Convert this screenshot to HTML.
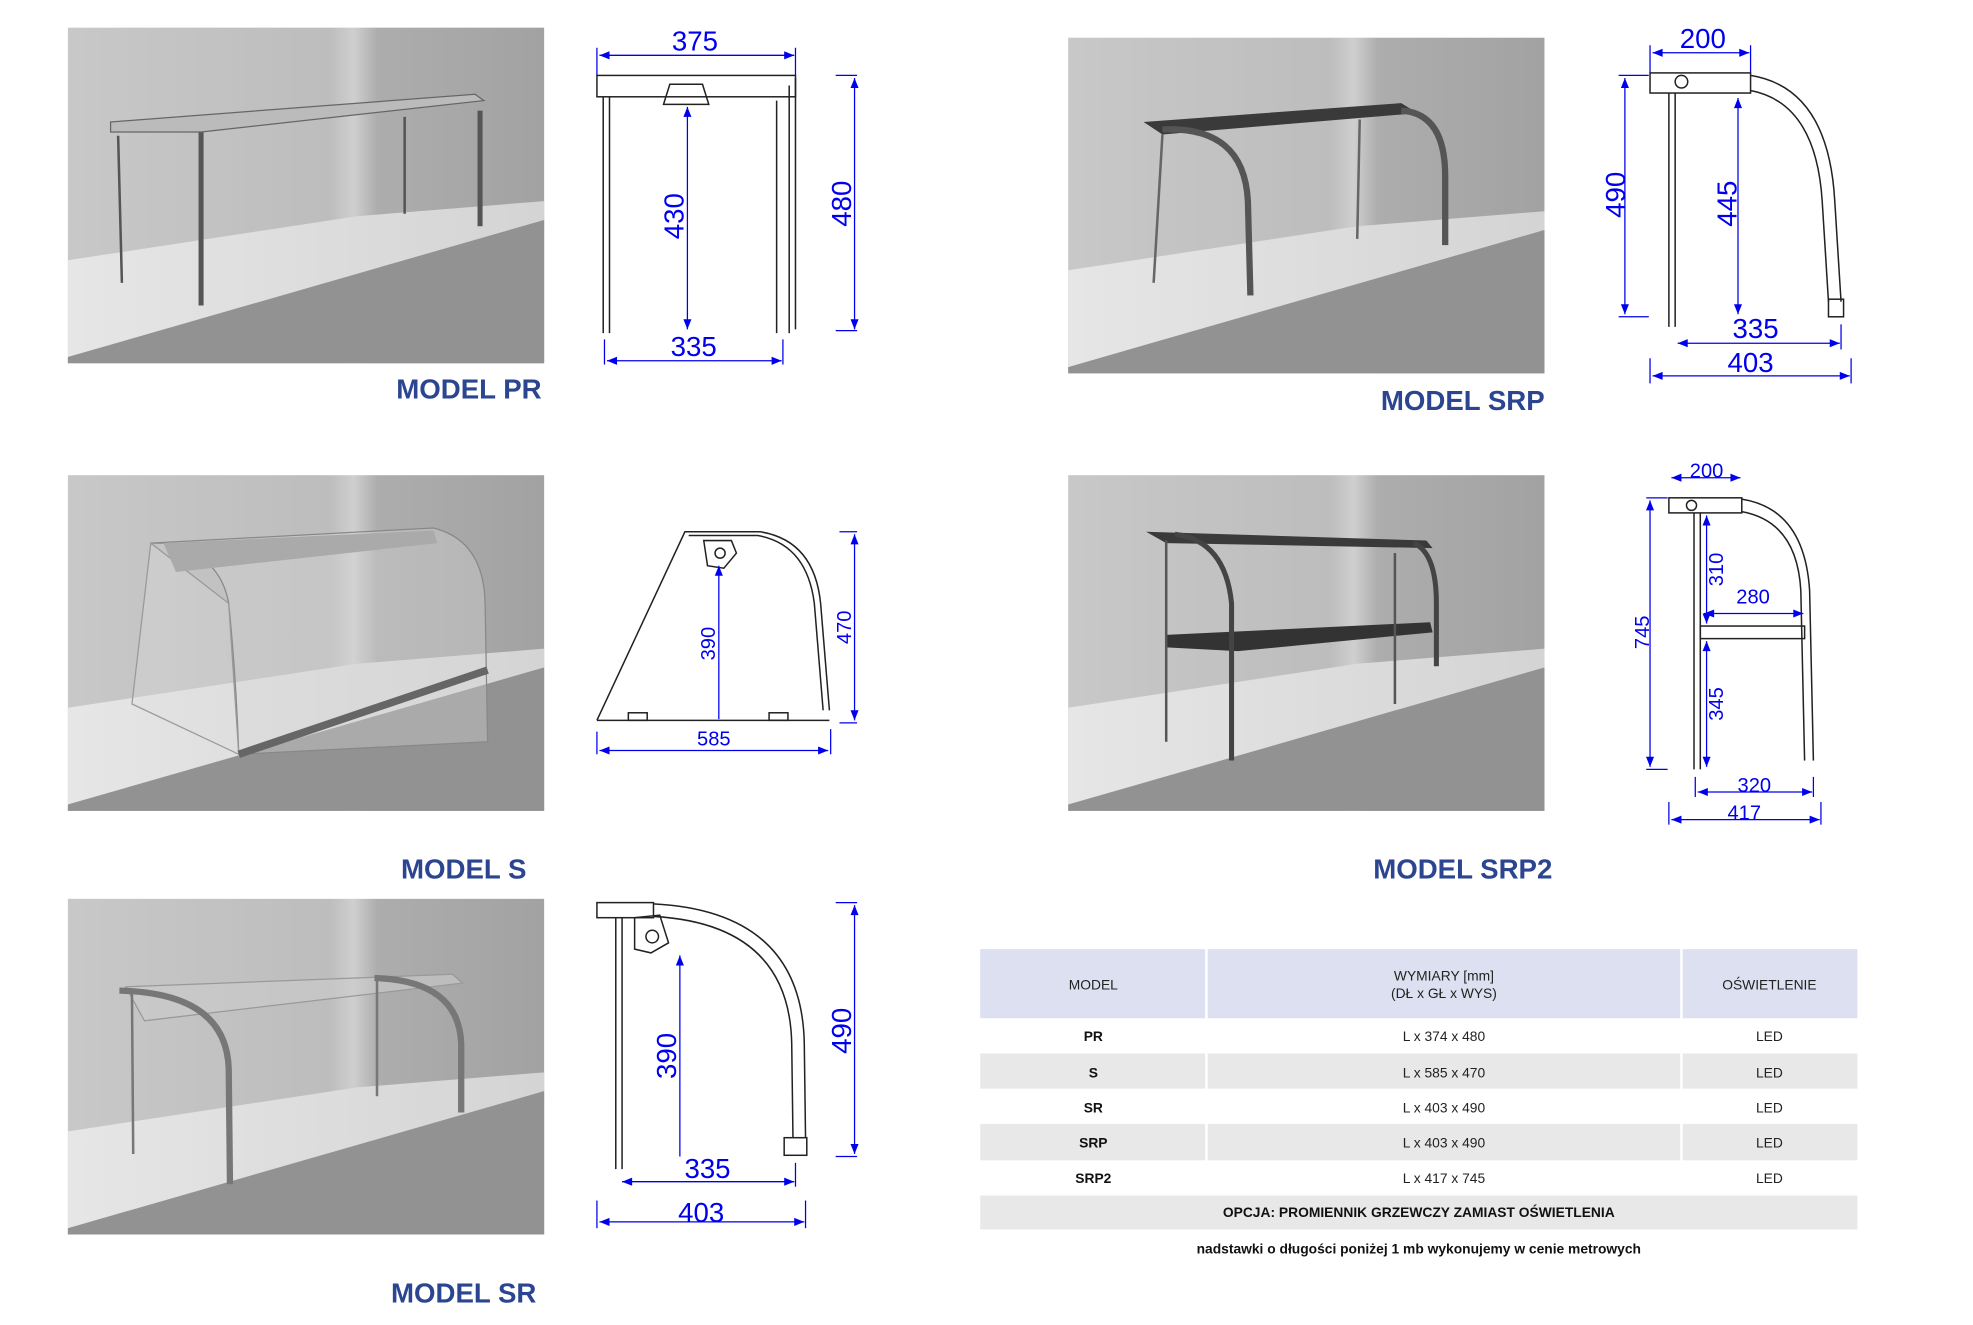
<!DOCTYPE html>
<html><head><meta charset="utf-8">
<style>
html,body{margin:0;padding:0;background:#fff;}
svg{display:block;}
text{font-family:"Liberation Sans",sans-serif;}
.m{font-weight:bold;font-size:22px;fill:#2b4590;}
.d{fill:#0000ee;font-size:22px;}
.ds{fill:#0000ee;font-size:16px;}
.dl{stroke:#0000ee;stroke-width:1;fill:none;}
.k{stroke:#222;stroke-width:1.2;fill:none;}
.t{font-size:11px;fill:#222;}
.tb{font-size:11px;fill:#111;font-weight:bold;}
</style></head><body>
<svg width="1973" height="1325" viewBox="0 0 1570 1054" preserveAspectRatio="none" xmlns="http://www.w3.org/2000/svg">
<defs>
<marker id="a" viewBox="0 0 10 10" refX="10" refY="5" markerWidth="10" markerHeight="8" orient="auto-start-reverse"><path d="M0,1 L10,5 L0,9 z" fill="#0000ee"/></marker>
<linearGradient id="wall" x1="0" x2="1" y1="0" y2="0"><stop offset="0" stop-color="#c8c8c8"/><stop offset="0.55" stop-color="#bdbdbd"/><stop offset="0.6" stop-color="#cfcfcf"/><stop offset="0.65" stop-color="#adadad"/><stop offset="1" stop-color="#a2a2a2"/></linearGradient>
<linearGradient id="top" x1="0" x2="1" y1="0" y2="0"><stop offset="0" stop-color="#e6e6e6"/><stop offset="1" stop-color="#d4d4d4"/></linearGradient>
<g id="bg">
<rect x="0" y="0" width="379" height="267" fill="url(#wall)"/>
<polygon points="0,185 230,150 379,138 379,153 0,262" fill="url(#top)"/>
<polygon points="0,262 379,153 379,267 0,267" fill="#929292"/>
</g>
</defs>

<use href="#bg" x="54" y="22"/>
<g stroke="#555" stroke-width="4" fill="none">
<line x1="160" y1="105" x2="160" y2="243"/><line x1="382" y1="88" x2="382" y2="180"/>
<line x1="94" y1="108" x2="97" y2="225" stroke-width="2"/><line x1="322" y1="93" x2="322" y2="170" stroke-width="2"/>
</g>
<polygon points="88,97 378,75 385,80 160,105 88,105" fill="#bbb" stroke="#666"/>
<text class="m" x="431" y="317" text-anchor="end">MODEL PR</text>

<line class="dl" x1="477" y1="44" x2="632" y2="44" marker-start="url(#a)" marker-end="url(#a)"/>
<line class="dl" x1="475" y1="38" x2="475" y2="60"/><line class="dl" x1="633" y1="38" x2="633" y2="60"/>
<text class="d" x="553" y="40" text-anchor="middle">375</text>
<rect class="k" x="475" y="60" width="158" height="17"/>
<polygon class="k" points="533,67 559,67 564,83 528,83"/>
<line class="k" x1="480" y1="77" x2="480" y2="265"/><line class="k" x1="485" y1="77" x2="485" y2="265"/>
<line class="k" x1="618" y1="80" x2="618" y2="265"/><line class="k" x1="628" y1="68" x2="628" y2="265"/><line class="k" x1="633" y1="62" x2="633" y2="262"/>
<line class="dl" x1="547" y1="85" x2="547" y2="262" marker-start="url(#a)" marker-end="url(#a)"/>
<text class="d" transform="translate(544,172) rotate(-90)" text-anchor="middle">430</text>
<line class="dl" x1="680" y1="62" x2="680" y2="262" marker-start="url(#a)" marker-end="url(#a)"/>
<line class="dl" x1="665" y1="60" x2="682" y2="60"/><line class="dl" x1="665" y1="263" x2="682" y2="263"/>
<text class="d" transform="translate(677,162) rotate(-90)" text-anchor="middle">480</text>
<line class="dl" x1="483" y1="287" x2="622" y2="287" marker-start="url(#a)" marker-end="url(#a)"/>
<line class="dl" x1="481" y1="270" x2="481" y2="290"/><line class="dl" x1="623" y1="270" x2="623" y2="290"/>
<text class="d" x="552" y="283" text-anchor="middle">335</text>

<use href="#bg" x="850" y="30"/>
<polygon points="910,97 1115,82 1128,90 925,107" fill="#3a3a3a"/>
<g stroke="#555" stroke-width="5" fill="none">
<path d="M925,103 Q990,100 993,160 L995,235"/><path d="M1115,88 Q1150,90 1150,140 L1150,195"/>
</g>
<g stroke="#666" stroke-width="2"><line x1="925" y1="107" x2="918" y2="225"/><line x1="1082" y1="95" x2="1080" y2="190"/></g>
<text class="m" x="1164" y="326" text-anchor="middle">MODEL SRP</text>

<line class="dl" x1="1315" y1="42" x2="1392" y2="42" marker-start="url(#a)" marker-end="url(#a)"/>
<line class="dl" x1="1313" y1="36" x2="1313" y2="58"/><line class="dl" x1="1393" y1="36" x2="1393" y2="58"/>
<text class="d" x="1355" y="38" text-anchor="middle">200</text>
<rect class="k" x="1313" y="58" width="80" height="16"/>
<circle class="k" cx="1338" cy="65" r="5"/>
<path class="k" d="M1393,60 Q1455,70 1460,160 L1465,240"/><path class="k" d="M1393,72 Q1445,82 1450,160 L1455,240"/>
<rect class="k" x="1455" y="238" width="12" height="14"/>
<line class="k" x1="1328" y1="74" x2="1328" y2="260"/><line class="k" x1="1333" y1="74" x2="1333" y2="260"/>
<line class="dl" x1="1293" y1="62" x2="1293" y2="250" marker-start="url(#a)" marker-end="url(#a)"/>
<line class="dl" x1="1288" y1="60" x2="1312" y2="60"/><line class="dl" x1="1288" y1="252" x2="1312" y2="252"/>
<text class="d" transform="translate(1293,155) rotate(-90)" text-anchor="middle">490</text>
<line class="dl" x1="1383" y1="78" x2="1383" y2="250" marker-start="url(#a)" marker-end="url(#a)"/>
<text class="d" transform="translate(1382,162) rotate(-90)" text-anchor="middle">445</text>
<line class="dl" x1="1335" y1="273" x2="1464" y2="273" marker-start="url(#a)" marker-end="url(#a)"/>
<line class="dl" x1="1465" y1="258" x2="1465" y2="278"/>
<text class="d" x="1397" y="269" text-anchor="middle">335</text>
<line class="dl" x1="1315" y1="299" x2="1472" y2="299" marker-start="url(#a)" marker-end="url(#a)"/>
<line class="dl" x1="1313" y1="285" x2="1313" y2="305"/><line class="dl" x1="1473" y1="285" x2="1473" y2="305"/>
<text class="d" x="1393" y="296" text-anchor="middle">403</text>

<use href="#bg" x="54" y="378"/>
<path d="M120,432 L345,420 Q385,430 386,480 L388,590 L190,600 Q188,540 182,480 Q175,440 130,432 Z" fill="#d8d8d8" fill-opacity="0.35" stroke="#888"/>
<polygon points="120,432 105,560 190,600 182,480" fill="#ddd" fill-opacity="0.3" stroke="#999"/>
<polygon points="130,432 345,422 348,432 140,455" fill="#aaa"/>
<line x1="190" y1="600" x2="388" y2="533" stroke="#666" stroke-width="6"/>
<text class="m" x="369" y="699" text-anchor="middle">MODEL S</text>

<path class="k" d="M475,573 L545,423 L605,423 Q648,430 653,480 L660,565"/>
<path class="k" d="M548,426 L603,426 Q642,433 648,480 L655,565"/>
<line class="k" x1="475" y1="573" x2="660" y2="573"/>
<rect class="k" x="500" y="567" width="15" height="6"/><rect class="k" x="612" y="567" width="15" height="6"/>
<path class="k" d="M560,430 L582,430 L586,440 L576,452 L563,450 Z"/><circle class="k" cx="573" cy="440" r="4"/>
<line class="dl" x1="572" y1="450" x2="572" y2="572" marker-start="url(#a)"/>
<text class="ds" transform="translate(569,512) rotate(-90)" text-anchor="middle">390</text>
<line class="dl" x1="680" y1="425" x2="680" y2="573" marker-start="url(#a)" marker-end="url(#a)"/>
<line class="dl" x1="668" y1="423" x2="682" y2="423"/><line class="dl" x1="668" y1="575" x2="682" y2="575"/>
<text class="ds" transform="translate(677,499) rotate(-90)" text-anchor="middle">470</text>
<line class="dl" x1="477" y1="597" x2="659" y2="597" marker-start="url(#a)" marker-end="url(#a)"/>
<line class="dl" x1="475" y1="582" x2="475" y2="600"/><line class="dl" x1="661" y1="580" x2="661" y2="600"/>
<text class="ds" x="568" y="593" text-anchor="middle">585</text>

<use href="#bg" x="850" y="378"/>
<polygon points="912,423 1135,430 1140,436 928,432" fill="#3a3a3a"/>
<polygon points="928,505 1138,495 1140,503 985,518 928,515" fill="#333"/>
<g stroke="#444" stroke-width="4" fill="none">
<path d="M935,425 Q975,430 980,480 L980,605"/><path d="M1125,432 Q1143,440 1143,480 L1143,530"/>
</g>
<g stroke="#555" stroke-width="2"><line x1="928" y1="430" x2="928" y2="590"/><line x1="1110" y1="440" x2="1110" y2="560"/></g>
<text class="m" x="1164" y="699" text-anchor="middle">MODEL SRP2</text>

<line class="dl" x1="1330" y1="380" x2="1385" y2="380" marker-start="url(#a)" marker-end="url(#a)"/>
<text class="ds" x="1358" y="380" text-anchor="middle">200</text>
<rect class="k" x="1328" y="396" width="58" height="12"/><circle class="k" cx="1346" cy="402" r="4"/>
<path class="k" d="M1386,397 Q1436,405 1440,470 L1443,605"/><path class="k" d="M1386,407 Q1430,415 1433,470 L1436,605"/>
<rect class="k" x="1353" y="498" width="83" height="10"/>
<line class="k" x1="1348" y1="408" x2="1348" y2="612"/><line class="k" x1="1353" y1="408" x2="1353" y2="612"/>
<line class="dl" x1="1313" y1="398" x2="1313" y2="610" marker-start="url(#a)" marker-end="url(#a)"/>
<line class="dl" x1="1310" y1="396" x2="1327" y2="396"/><line class="dl" x1="1310" y1="612" x2="1327" y2="612"/>
<text class="ds" transform="translate(1312,503) rotate(-90)" text-anchor="middle">745</text>
<line class="dl" x1="1358" y1="410" x2="1358" y2="496" marker-start="url(#a)" marker-end="url(#a)"/>
<text class="ds" transform="translate(1371,453) rotate(-90)" text-anchor="middle">310</text>
<line class="dl" x1="1356" y1="488" x2="1435" y2="488" marker-start="url(#a)" marker-end="url(#a)"/>
<text class="ds" x="1395" y="480" text-anchor="middle">280</text>
<line class="dl" x1="1358" y1="510" x2="1358" y2="610" marker-start="url(#a)" marker-end="url(#a)"/>
<text class="ds" transform="translate(1371,560) rotate(-90)" text-anchor="middle">345</text>
<line class="dl" x1="1351" y1="630" x2="1442" y2="630" marker-start="url(#a)" marker-end="url(#a)"/>
<line class="dl" x1="1349" y1="618" x2="1349" y2="634"/><line class="dl" x1="1443" y1="618" x2="1443" y2="634"/>
<text class="ds" x="1396" y="630" text-anchor="middle">320</text>
<line class="dl" x1="1330" y1="652" x2="1448" y2="652" marker-start="url(#a)" marker-end="url(#a)"/>
<line class="dl" x1="1328" y1="638" x2="1328" y2="656"/><line class="dl" x1="1449" y1="638" x2="1449" y2="656"/>
<text class="ds" x="1388" y="652" text-anchor="middle">417</text>

<use href="#bg" x="54" y="715"/>
<polygon points="100,785 360,775 368,782 115,812" fill="#ccc" fill-opacity="0.6" stroke="#999"/>
<g stroke="#777" stroke-width="5" fill="none">
<path d="M95,788 Q180,790 182,850 L183,942"/><path d="M298,778 Q365,780 367,830 L367,885"/>
</g>
<g stroke="#777" stroke-width="2"><line x1="105" y1="790" x2="106" y2="918"/><line x1="300" y1="780" x2="300" y2="872"/></g>
<text class="m" x="369" y="1036" text-anchor="middle">MODEL SR</text>

<rect class="k" x="475" y="718" width="45" height="12"/>
<path class="k" d="M520,719 Q638,725 640,830 L641,905"/><path class="k" d="M520,729 Q628,735 630,830 L631,905"/>
<rect class="k" x="624" y="905" width="18" height="14"/>
<path class="k" d="M505,730 L525,728 L532,750 L518,758 L505,755 Z"/><circle class="k" cx="519" cy="745" r="5"/>
<line class="k" x1="490" y1="730" x2="490" y2="930"/><line class="k" x1="495" y1="730" x2="495" y2="930"/>
<line class="dl" x1="541" y1="760" x2="541" y2="920" marker-start="url(#a)"/>
<text class="d" transform="translate(538,840) rotate(-90)" text-anchor="middle">390</text>
<line class="dl" x1="680" y1="720" x2="680" y2="918" marker-start="url(#a)" marker-end="url(#a)"/>
<line class="dl" x1="665" y1="718" x2="682" y2="718"/><line class="dl" x1="665" y1="920" x2="682" y2="920"/>
<text class="d" transform="translate(677,820) rotate(-90)" text-anchor="middle">490</text>
<line class="dl" x1="495" y1="940" x2="632" y2="940" marker-start="url(#a)" marker-end="url(#a)"/>
<line class="dl" x1="633" y1="925" x2="633" y2="944"/>
<text class="d" x="563" y="937" text-anchor="middle">335</text>
<line class="dl" x1="477" y1="972" x2="640" y2="972" marker-start="url(#a)" marker-end="url(#a)"/>
<line class="dl" x1="475" y1="955" x2="475" y2="977"/><line class="dl" x1="641" y1="955" x2="641" y2="977"/>
<text class="d" x="558" y="972" text-anchor="middle">403</text>

<rect x="780" y="755" width="698" height="55" fill="#dde0f0"/>
<rect x="780" y="838" width="698" height="28" fill="#e8e8e8"/>
<rect x="780" y="894" width="698" height="29" fill="#e8e8e8"/>
<rect x="780" y="951" width="698" height="27" fill="#e8e8e8"/>
<g stroke="#fff" stroke-width="2"><line x1="960" y1="755" x2="960" y2="951"/><line x1="1338" y1="755" x2="1338" y2="951"/></g>
<text class="t" x="870" y="787" text-anchor="middle">MODEL</text>
<text class="t" x="1149" y="780" text-anchor="middle">WYMIARY [mm]</text>
<text class="t" x="1149" y="794" text-anchor="middle">(DŁ x GŁ x WYS)</text>
<text class="t" x="1408" y="787" text-anchor="middle">OŚWIETLENIE</text>
<g text-anchor="middle">
<text class="tb" x="870" y="828">PR</text><text class="t" x="1149" y="828">L x 374 x 480</text><text class="t" x="1408" y="828">LED</text>
<text class="tb" x="870" y="857">S</text><text class="t" x="1149" y="857">L x 585 x 470</text><text class="t" x="1408" y="857">LED</text>
<text class="tb" x="870" y="885">SR</text><text class="t" x="1149" y="885">L x 403 x 490</text><text class="t" x="1408" y="885">LED</text>
<text class="tb" x="870" y="913">SRP</text><text class="t" x="1149" y="913">L x 403 x 490</text><text class="t" x="1408" y="913">LED</text>
<text class="tb" x="870" y="941">SRP2</text><text class="t" x="1149" y="941">L x 417 x 745</text><text class="t" x="1408" y="941">LED</text>
<text class="tb" x="1129" y="968">OPCJA: PROMIENNIK GRZEWCZY ZAMIAST OŚWIETLENIA</text>
<text class="tb" x="1129" y="997">nadstawki o długości poniżej 1 mb wykonujemy w cenie metrowych</text>
</g>
</svg>
</body></html>
